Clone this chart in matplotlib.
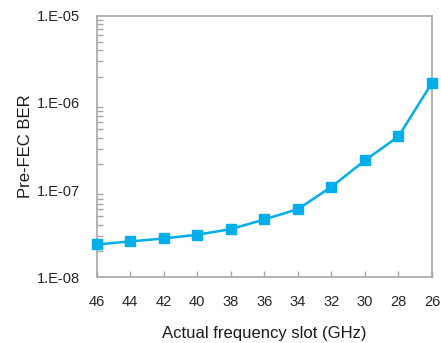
import numpy as np
from matplotlib import pyplot as plt
from matplotlib.ticker import LogLocator, FixedLocator, NullFormatter

slots = [46, 44, 42, 40, 38, 36, 34, 32, 30, 28, 26]
ber = [2.38e-8, 2.58e-8, 2.79e-8, 3.08e-8, 3.57e-8, 4.61e-8,
       6.05e-8, 1.09e-7, 2.19e-7, 4.13e-7, 1.70e-6]
ytick_vals = [1e-8, 1e-7, 1e-6, 1e-5]
ytick_labels = ["1.E-08", "1.E-07", "1.E-06", "1.E-05"]

plt.rcParams["font.family"] = ["Liberation Sans", "DejaVu Sans"]

fig = plt.figure(figsize=(4.41, 3.43), dpi=100)
ax = fig.add_axes([0.2193, 0.1915, 0.7603, 0.7627])

x = np.arange(len(slots))
ax.plot(x, ber, color="#00AEEA", linewidth=1.8, marker="s",
        markersize=7.5, clip_on=False, zorder=3)

ax.set_yscale("log")
ax.set_ylim(1e-8, 1e-5)
ax.set_xlim(0, len(slots) - 1)

ax.set_xticks(x)
ax.set_xticklabels([str(s) for s in slots])
ax.yaxis.set_major_locator(FixedLocator(ytick_vals))
ax.set_yticklabels(ytick_labels)
ax.yaxis.set_minor_locator(LogLocator(base=10, subs=np.arange(2, 10)))
ax.yaxis.set_minor_formatter(NullFormatter())

ax.tick_params(axis="x", direction="in", length=4, width=1, color="#A6A6A6",
               labelsize=10.5, pad=13, labelcolor="#262626")
ax.tick_params(axis="y", which="major", length=0, labelsize=10.5, pad=12,
               labelcolor="#262626")
ax.tick_params(axis="y", which="minor", direction="in", length=4, width=1,
               color="#A6A6A6")

for s in ax.spines.values():
    s.set_color("#A6A6A6")
    s.set_linewidth(1.2)

ax.set_xlabel("Actual frequency slot (GHz)", fontsize=12, labelpad=12,
              color="#1a1a1a")
ax.set_ylabel("Pre-FEC BER", fontsize=12, labelpad=2.5, color="#1a1a1a")

plt.savefig("out.png", dpi=100)
